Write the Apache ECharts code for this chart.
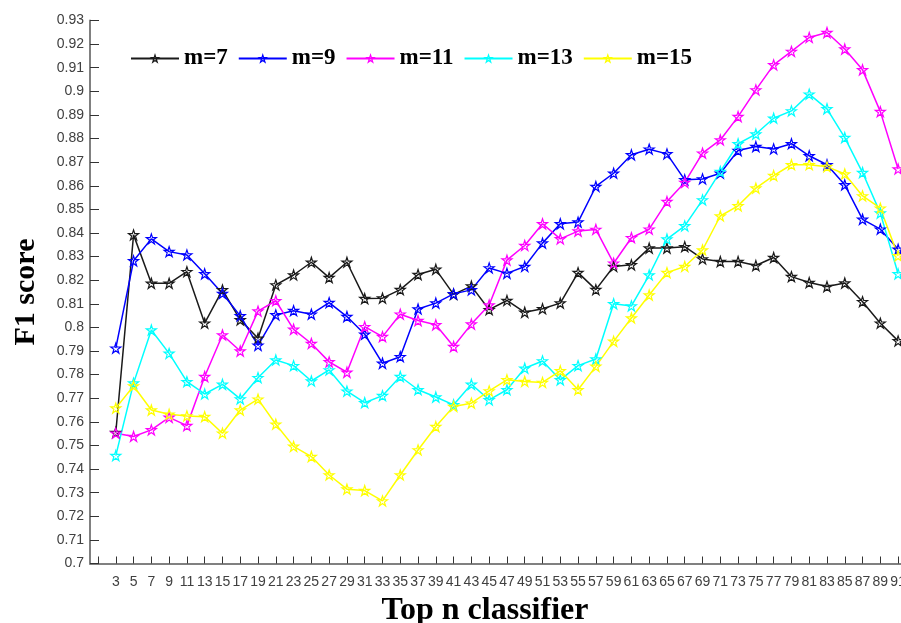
<!DOCTYPE html>
<html>
<head>
<meta charset="utf-8">
<script src="https://cdn.jsdelivr.net/npm/echarts@6/dist/echarts.min.js"></script>
<style>
html,body{margin:0;padding:0;background:#fff;}
#chart{width:901px;height:623px;}
</style>
</head>
<body>
<div id="chart"></div>
<script>
// Top n classifier values (x axis)
const topN = [3,5,7,9,11,13,15,17,19,21,23,25,27,29,31,33,35,37,39,41,43,45,47,49,51,53,55,57,59,61,63,65,67,69,71,73,75,77,79,81,83,85,87,89,91];

// F1 score per series
const m7 = [0.7555,0.8392,0.8187,0.8187,0.8236,0.8018,0.8159,0.8032,0.7954,0.8180,
            0.8222,0.8276,0.8211,0.8276,0.8122,0.8124,0.8160,0.8224,0.8246,0.8140,
            0.8175,0.8075,0.8114,0.8064,0.8079,0.8103,0.8232,0.8160,0.8258,0.8265,
            0.8336,0.8336,0.8342,0.8290,0.8279,0.8279,0.8262,0.8296,0.8215,0.8190,
            0.8173,0.8188,0.8109,0.8018,0.7943];
const m9 = [0.7912,0.8282,0.8375,0.8321,0.8307,0.8227,0.8144,0.8049,0.7924,0.8053,
            0.8071,0.8056,0.8105,0.8046,0.7971,0.7848,0.7876,0.8078,0.8103,0.8142,
            0.8159,0.8252,0.8229,0.8258,0.8357,0.8439,0.8446,0.8597,0.8653,0.8731,
            0.8755,0.8735,0.8625,0.8629,0.8653,0.8749,0.8766,0.8756,0.8778,0.8727,
            0.8689,0.8604,0.8458,0.8416,0.8331];
const m11 = [0.7552,0.7538,0.7566,0.7619,0.7584,0.7792,0.7968,0.7900,0.8069,0.8113,
             0.7992,0.7932,0.7854,0.7810,0.8003,0.7961,0.8056,0.8029,0.8011,0.7919,
             0.8014,0.8095,0.8285,0.8347,0.8439,0.8375,0.8408,0.8415,0.8272,0.8380,
             0.8416,0.8533,0.8614,0.8738,0.8794,0.8893,0.9006,0.9112,0.9169,0.9228,
             0.9249,0.9179,0.9091,0.8914,0.8671];
const m13 = [0.7457,0.7764,0.7989,0.7890,0.7770,0.7718,0.7759,0.7697,0.7787,0.7862,
             0.7838,0.7773,0.7820,0.7730,0.7681,0.7711,0.7792,0.7736,0.7705,0.7672,
             0.7759,0.7693,0.7736,0.7827,0.7858,0.7778,0.7838,0.7866,0.8100,0.8091,
             0.8222,0.8374,0.8430,0.8540,0.8660,0.8778,0.8819,0.8886,0.8917,0.8988,
             0.8926,0.8804,0.8656,0.8484,0.8227];
const m15 = [0.7658,0.7752,0.7650,0.7632,0.7625,0.7622,0.7552,0.7650,0.7696,0.7590,
             0.7496,0.7453,0.7375,0.7315,0.7309,0.7265,0.7375,0.7481,0.7580,0.7665,
             0.7679,0.7731,0.7778,0.7771,0.7767,0.7816,0.7736,0.7835,0.7941,0.8040,
             0.8137,0.8232,0.8258,0.8328,0.8472,0.8515,0.8590,0.8643,0.8689,0.8689,
             0.8681,0.8650,0.8557,0.8505,0.8303];

const seriesNames = ['m=7','m=9','m=11','m=13','m=15'];
const seriesValues = [m7, m9, m11, m13, m15];
const seriesColors = ['#1a1a1a','#0000ff','#ff00ff','#00ffff','#ffff00'];

const star = 'path://M50,0 L61.8,35.1 L98.9,35.1 L68.8,56.8 L80.3,91.9 L50,70.2 L19.7,91.9 L31.2,56.8 L1.1,35.1 L38.2,35.1 Z';

const axisGray = '#808080';
const labelGray = '#404040';

const chart = echarts.init(document.getElementById('chart'));
chart.setOption({
  animation: false,
  backgroundColor: '#fff',
  legend: {
    data: seriesNames,
    left: 130,
    top: 47,
    padding: 0,
    itemWidth: 48,
    itemHeight: 9,
    itemGap: 10,
    itemStyle: {color: 'rgba(255,255,255,0)', borderColor: 'inherit', borderWidth: 1.2},
    textStyle: {fontFamily: 'Liberation Serif', fontWeight: 'bold', fontSize: 23, color: '#000'}
  },
  grid: [
    {left: 98, width: 809, top: 20.5, bottom: 59.5, containLabel: false, outerBoundsMode: 'none'},
    {left: 90, width: 9, top: 20.5, bottom: 59.5, containLabel: false, outerBoundsMode: 'none'}
  ],
  xAxis: [
    {
      gridIndex: 0, type: 'value', min: 1, max: 92, interval: 2,
      name: 'Top n classifier', nameLocation: 'middle', nameGap: 25,
      nameTextStyle: {fontFamily: 'Liberation Serif', fontWeight: 'bold', fontSize: 32, color: '#000', padding: [0, 35, 0, 0]},
      axisLine: {show: true, lineStyle: {color: axisGray, width: 2}},
      axisTick: {show: true, inside: true, length: 7, lineStyle: {color: '#333', width: 1}},
      axisLabel: {margin: 12, fontFamily: 'Liberation Sans', fontSize: 14, color: labelGray,
                  formatter: v => (v === 1 ? '' : String(v))},
      splitLine: {show: false}
    },
    {
      gridIndex: 1, type: 'value', min: 0, max: 1,
      axisLine: {show: true, lineStyle: {color: axisGray, width: 2}},
      axisTick: {show: false}, axisLabel: {show: false}, splitLine: {show: false}
    }
  ],
  yAxis: [
    {gridIndex: 0, type: 'value', min: 0.7, max: 0.93, show: false, splitLine: {show: false}},
    {
      gridIndex: 1, type: 'value', min: 0.7, max: 0.93, interval: 0.01,
      name: 'F1 score', nameLocation: 'middle', nameGap: 49,
      nameTextStyle: {fontFamily: 'Liberation Serif', fontWeight: 'bold', fontSize: 30, color: '#000'},
      axisLine: {show: true, lineStyle: {color: axisGray, width: 2}},
      axisTick: {show: true, inside: true, length: 9, lineStyle: {color: '#333', width: 1}},
      axisLabel: {margin: 6, fontFamily: 'Liberation Sans', fontSize: 14, color: labelGray},
      splitLine: {show: false}
    }
  ],
  series: seriesNames.map((name, k) => ({
    name: name,
    type: 'line',
    xAxisIndex: 0,
    yAxisIndex: 0,
    data: topN.map((n, i) => [n, seriesValues[k][i]]),
    symbol: star,
    symbolSize: 10,
    showAllSymbol: true,
    color: seriesColors[k],
    lineStyle: {color: seriesColors[k], width: 1.5},
    itemStyle: {color: 'rgba(255,255,255,0)', borderColor: seriesColors[k], borderWidth: 1.2},
    clip: false
  }))
});
</script>
</body>
</html>
